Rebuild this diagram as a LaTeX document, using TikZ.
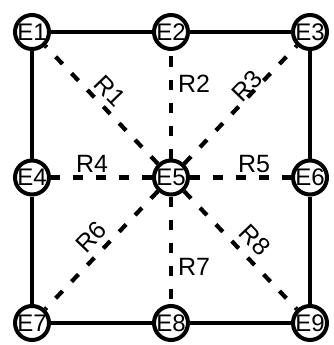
\documentclass[tikz,border=0pt]{standalone}
\usepackage{fontspec}
\setmainfont{Liberation Sans}
\begin{document}
\begin{tikzpicture}[x=1pt,y=-1pt,
  vert/.style={circle,draw=black,line width=4pt,fill=white,minimum size=34pt,inner sep=0pt,font=\fontsize{24}{24}\selectfont},
  lab/.style={inner sep=0pt,font=\fontsize{25}{25}\selectfont},
  frame/.style={line width=4.2pt},
  link/.style={line width=4.2pt,dash pattern=on 10pt off 13pt}]
\useasboundingbox[fill=white] (0,0) rectangle (333,345);
% vertices
\node[vert] (e1) at (32,32) {E1};
\node[vert] (e2) at (171,32) {E2};
\node[vert] (e3) at (310,32) {E3};
\node[vert] (e4) at (32,177.5) {E4};
\node[vert] (e5) at (171,177.5) {E5};
\node[vert] (e6) at (310,177.5) {E6};
\node[vert] (e7) at (32,323) {E7};
\node[vert] (e8) at (171,323) {E8};
\node[vert] (e9) at (310,323) {E9};
% frame
\draw[frame] (e1) -- (e2);
\draw[frame] (e2) -- (e3);
\draw[frame] (e3) -- (e6);
\draw[frame] (e6) -- (e9);
\draw[frame] (e9) -- (e8);
\draw[frame] (e8) -- (e7);
\draw[frame] (e7) -- (e4);
\draw[frame] (e4) -- (e1);
% links
\draw[link] (e5) -- (e1);
\draw[link] (e5) -- (e2);
\draw[link] (e5) -- (e3);
\draw[link] (e5) -- (e4);
\draw[link] (e5) -- (e6);
\draw[link] (e5) -- (e7);
\draw[link] (e5) -- (e8);
\draw[link] (e5) -- (e9);
% labels
\node[lab,rotate=-46] (r1) at (110,91) {R1};
\node[lab] (r2) at (194,83.5) {R2};
\node[lab,rotate=46] (r3) at (247,86) {R3};
\node[lab] (r4) at (92,164) {R4};
\node[lab] (r5) at (254,164) {R5};
\node[lab,rotate=46] (r6) at (91,237) {R6};
\node[lab] (r7) at (194,267) {R7};
\node[lab,rotate=-46] (r8) at (255,240) {R8};
\end{tikzpicture}
\end{document}
